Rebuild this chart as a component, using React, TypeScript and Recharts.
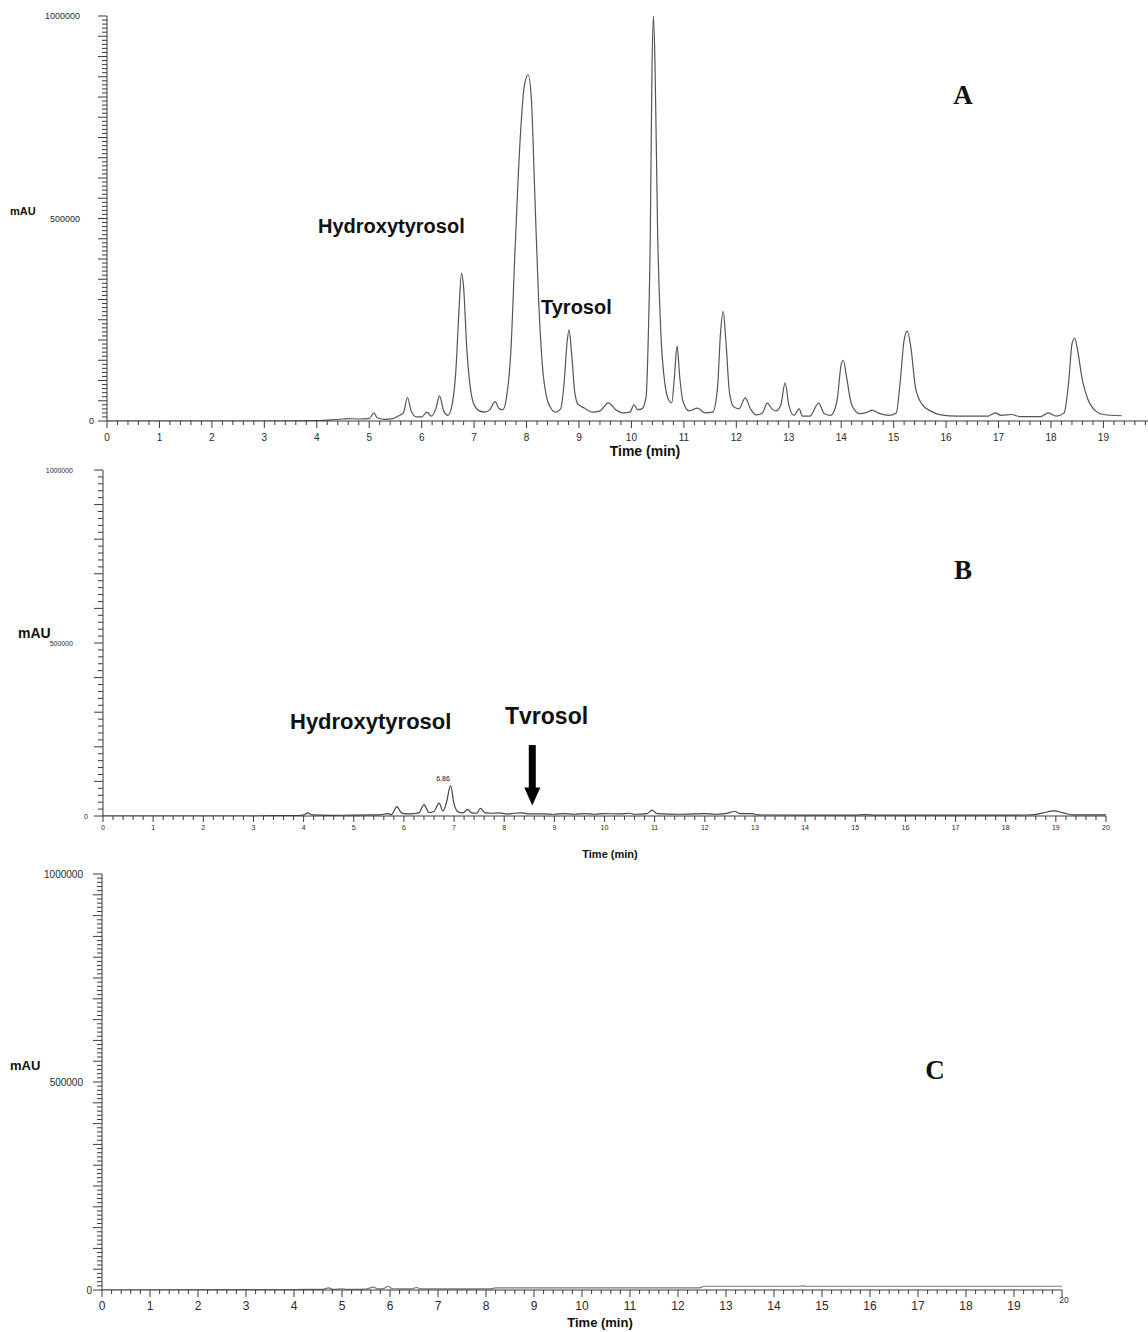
import React from 'react'
import { LineChart, Line, XAxis, YAxis, ReferenceLine, ReferenceDot } from 'recharts'

// Panel A – full extract (retention time in min, signal in mAU)
const timeA = [
  0, 1, 2, 3, 4, 4.3, 4.5, 4.6, 4.8, 5.0, 5.09, 5.15, 5.3, 5.45, 5.55, 5.65, 5.73, 5.8, 5.9, 6.0,
  6.1, 6.18, 6.27, 6.34, 6.42, 6.5, 6.58, 6.65, 6.71, 6.76, 6.8, 6.86, 6.93, 7.0, 7.1, 7.2, 7.3, 7.4,
  7.48, 7.55, 7.62, 7.7, 7.78, 7.88, 7.96, 8.03, 8.09, 8.16, 8.23, 8.3, 8.38, 8.45, 8.55, 8.65, 8.72,
  8.77, 8.81, 8.86, 8.92, 8.98, 9.1, 9.25, 9.4, 9.56, 9.7, 9.85, 9.97, 10.05, 10.12, 10.2, 10.28,
  10.32, 10.36, 10.39, 10.42, 10.45, 10.5, 10.56, 10.64, 10.72, 10.77, 10.82, 10.87, 10.92, 10.98,
  11.1, 11.26, 11.4, 11.55, 11.64, 11.7, 11.75, 11.8, 11.87, 11.95, 12.05, 12.17, 12.27, 12.38, 12.5,
  12.59, 12.68, 12.76, 12.85, 12.93, 13.0, 13.1, 13.2, 13.26, 13.4, 13.57, 13.68, 13.8, 13.92, 14.0,
  14.04, 14.1, 14.2, 14.35, 14.5, 14.59, 14.7, 14.9, 15.05, 15.12, 15.2, 15.26, 15.33, 15.42, 15.55,
  15.7, 15.9, 16.2, 16.8, 16.93, 17.05, 17.25, 17.4, 17.8, 17.95, 18.1, 18.25, 18.34, 18.4, 18.45,
  18.5, 18.6, 18.7, 18.85, 19.0, 19.35,
]
const signalA = [
  0, 0, 0, 0, 1000, 3000, 5000, 6000, 5000, 6000, 20000, 8000, 4000, 6000, 12000, 20000, 58000, 25000, 10000, 10000,
  22000, 12000, 30000, 62000, 25000, 14000, 40000, 120000, 270000, 365000, 330000, 180000, 80000, 40000, 25000, 22000, 28000, 48000,
  30000, 28000, 60000, 170000, 420000, 700000, 830000, 855000, 800000, 550000, 300000, 140000, 60000, 35000, 22000, 30000, 100000,
  190000, 225000, 165000, 70000, 42000, 32000, 22000, 25000, 45000, 28000, 20000, 22000, 40000, 28000, 30000, 60000,
  200000, 460000, 850000, 1000000, 880000, 460000, 220000, 90000, 50000, 45000, 110000, 185000, 110000, 50000,
  25000, 32000, 20000, 22000, 80000, 220000, 270000, 200000, 70000, 35000, 30000, 57000, 30000, 15000, 20000,
  44000, 30000, 25000, 40000, 94000, 40000, 14000, 30000, 12000, 12000, 44000, 18000, 14000, 50000, 140000,
  150000, 110000, 40000, 18000, 22000, 27000, 20000, 14000, 20000, 90000, 200000, 222000, 180000, 80000, 40000,
  25000, 15000, 12000, 12000, 20000, 14000, 16000, 11000, 11000, 20000, 12000, 20000, 100000, 190000, 205000,
  180000, 100000, 55000, 25000, 16000, 13000,
]

// Panel B
const timeB = [
  0, 3.0, 3.4, 3.9, 4.0, 4.08, 4.18, 4.5, 5.0, 5.5, 5.68, 5.75, 5.86, 5.95, 6.05, 6.2, 6.3, 6.4, 6.5,
  6.6, 6.7, 6.78, 6.85, 6.93, 7.0, 7.08, 7.18, 7.27, 7.35, 7.45, 7.53, 7.62, 7.75, 7.9, 8.05, 8.2,
  8.35, 8.5, 8.8, 9.0, 9.2, 9.4, 9.6, 9.8, 10.0, 10.3, 10.5, 10.6, 10.85, 10.95, 11.05, 11.5, 12.0,
  12.2, 12.4, 12.6, 12.7, 12.95, 13.05, 14.0, 15.0, 15.2, 15.4, 16.5, 18.0, 18.5, 18.75, 18.95,
  19.15, 19.35, 20,
]
const signalB = [
  0, 0, 1500, 1500, 3000, 9000, 3000, 2000, 2500, 3000, 7000, 4000, 27000, 9000, 6000, 7000, 9000, 33000, 10000,
  13000, 37000, 14000, 40000, 88000, 35000, 12000, 9000, 19000, 9000, 8000, 22000, 9000, 8000, 9000, 6000, 8000,
  9000, 6000, 6000, 5000, 7000, 5000, 7000, 5000, 7000, 6000, 8000, 5000, 7000, 17000, 7000, 5000, 7000,
  5000, 7000, 13000, 7000, 7000, 3000, 2500, 2500, 4000, 2500, 2500, 2500, 3000, 9000, 15000,
  9000, 3000, 3000,
]

// Panel C
const timeC = [
  0, 2.7, 4.0, 4.6, 4.72, 4.82, 5.0, 5.1, 5.5, 5.65, 5.75, 5.88, 5.95, 6.05, 6.45, 6.55, 6.65, 8.1,
  8.2, 12.45, 12.55, 14.5, 14.6, 14.7, 20,
]
const signalC = [
  0, 800, 1200, 1500, 5000, 1500, 3000, 1500, 2000, 7000, 2500, 4000, 9000, 3000, 2500, 6000, 2500, 2500,
  5000, 5000, 9000, 9000, 10000, 9000, 9000,
]

const minutesA = [0, 1, 2, 3, 4, 5, 6, 7, 8, 9, 10, 11, 12, 13, 14, 15, 16, 17, 18, 19]
const minutesBC = [0, 1, 2, 3, 4, 5, 6, 7, 8, 9, 10, 11, 12, 13, 14, 15, 16, 17, 18, 19, 20]
const yLabels = [0, 500000, 1000000]

// Tyrosol arrow in panel B (data units)
const arrowX = 8.56
const arrowTop = 205000
const arrowShaftEnd = 70000
const arrowTip = 30000

const SANS = '"Liberation Sans", Arial, Helvetica, sans-serif'
const SERIF = '"Liberation Serif", "Times New Roman", serif'
const AXIS = '#3a3a3a'

const rows = (t: number[], v: number[]) => t.map((x, i) => ({ t: x, v: v[i] }))

function subTicks(minutes: number[], max: number) {
  const out: number[] = []
  minutes.forEach((m) => {
    for (let k = 0; k < 5; k++) {
      const v = Math.round((m + k * 0.2) * 1000) / 1000
      if (v <= max) out.push(v)
    }
  })
  return out
}

function yTicks(step: number) {
  const out: number[] = []
  for (let v = 0; v <= 1000000; v += step) out.push(v)
  return out
}

const isInt = (v: number) => Math.abs(v - Math.round(v)) < 1e-6

const makeXTick =
  (major: number, minor: number, gap: number, size: number, smallLast?: number) =>
  (props: any) => {
    const { x, y, payload } = props
    const v = payload.value
    const int = isInt(v)
    const last = smallLast !== undefined && Math.round(v) === smallLast && int
    return (
      <g>
        <line x1={x} x2={x} y1={y} y2={y + (int ? major : minor)} stroke={AXIS} strokeWidth={1} />
        {int && (
          <text
            x={x + (last ? 2 : 0)}
            y={y + (last ? gap - 6 : gap)}
            textAnchor="middle"
            dominantBaseline="central"
            fontSize={last ? size * 0.7 : size}
            fontFamily={SANS}
            fill="#2a2a2a"
          >
            {Math.round(v)}
          </text>
        )}
      </g>
    )
  }

const makeYTick =
  (every: number, major: number, minor: number, gap: number, zeroGap: number, size: number) =>
  (props: any) => {
    const { x, y, payload } = props
    const v = payload.value
    const big = v % every === 0
    return (
      <g>
        <line x1={x - (big ? major : minor)} x2={x} y1={y} y2={y} stroke={AXIS} strokeWidth={1} />
        {yLabels.includes(v) && (
          <text
            x={x - (v === 0 ? zeroGap : gap)}
            y={y}
            textAnchor="end"
            dominantBaseline="central"
            fontSize={size}
            fontFamily={SANS}
            fill="#2a2a2a"
          >
            {v}
          </text>
        )}
      </g>
    )
  }

const arrowHead = (props: any) => {
  const { cx, cy } = props
  return <polygon points={`${cx - 8},${cy - 18} ${cx + 8},${cy - 18} ${cx},${cy}`} fill="#000" />
}

const txt = (bold = true) => ({ fontFamily: SANS, fontWeight: bold ? 700 : 400, fill: '#111' })

export default function App() {
  return (
    <div style={{ position: 'absolute', left: 0, top: 0, width: 1148, height: 1332, background: '#fff' }}>
      {/* A */}
      <div style={{ position: 'absolute', left: 0, top: 0 }}>
        <LineChart width={1148} height={470} data={rows(timeA, signalA)} margin={{ top: 16, right: 0, bottom: 0, left: 0 }}>
          <XAxis
            type="number"
            dataKey="t"
            domain={[0, 19.85]}
            ticks={subTicks(minutesA, 19.85)}
            interval={0}
            height={49}
            tickSize={0}
            tickMargin={0}
            axisLine={{ stroke: AXIS }}
            tickLine={false}
            tick={makeXTick(7, 4, 16, 10)}
            allowDataOverflow
          />
          <YAxis
            type="number"
            domain={[0, 1000000]}
            ticks={yTicks(10000)}
            interval={0}
            width={107}
            tickSize={0}
            tickMargin={0}
            axisLine={{ stroke: AXIS }}
            tickLine={false}
            tick={makeYTick(50000, 9, 5, 27, 13, 9)}
            allowDataOverflow
          />
          <Line type="monotone" dataKey="v" stroke="#555" strokeWidth={1.2} dot={false} isAnimationActive={false} />
        </LineChart>
      </div>

      {/* B */}
      <div style={{ position: 'absolute', left: 0, top: 460 }}>
        <LineChart width={1148} height={400} data={rows(timeB, signalB)} margin={{ top: 10, right: 42, bottom: 0, left: 0 }}>
          <XAxis
            type="number"
            dataKey="t"
            domain={[0, 20]}
            ticks={subTicks(minutesBC, 20)}
            interval={0}
            height={44}
            tickSize={0}
            tickMargin={0}
            axisLine={{ stroke: AXIS }}
            tickLine={false}
            tick={makeXTick(6, 4, 11, 7)}
            allowDataOverflow
          />
          <YAxis
            type="number"
            domain={[0, 1000000]}
            ticks={yTicks(20000)}
            interval={0}
            width={103}
            tickSize={0}
            tickMargin={0}
            axisLine={{ stroke: AXIS }}
            tickLine={false}
            tick={makeYTick(100000, 9, 5, 30, 15, 7)}
            allowDataOverflow
          />
          <Line type="monotone" dataKey="v" stroke="#444" strokeWidth={1.2} dot={false} isAnimationActive={false} />
          <ReferenceLine
            segment={[
              { x: arrowX, y: arrowTop },
              { x: arrowX, y: arrowShaftEnd },
            ]}
            stroke="#000"
            strokeWidth={7}
          />
          <ReferenceDot x={arrowX} y={arrowTip} r={8} shape={arrowHead} />
        </LineChart>
      </div>

      {/* C */}
      <div style={{ position: 'absolute', left: 0, top: 864 }}>
        <LineChart width={1148} height={468} data={rows(timeC, signalC)} margin={{ top: 10, right: 86, bottom: 0, left: 0 }}>
          <XAxis
            type="number"
            dataKey="t"
            domain={[0, 20]}
            ticks={subTicks(minutesBC, 20)}
            interval={0}
            height={42}
            tickSize={0}
            tickMargin={0}
            axisLine={{ stroke: AXIS }}
            tickLine={false}
            tick={makeXTick(7, 4, 16, 12, 20)}
            allowDataOverflow
          />
          <YAxis
            type="number"
            domain={[0, 1000000]}
            ticks={yTicks(10000)}
            interval={0}
            width={102}
            tickSize={0}
            tickMargin={0}
            axisLine={{ stroke: AXIS }}
            tickLine={false}
            tick={makeYTick(50000, 9, 5, 19, 10, 10)}
            allowDataOverflow
          />
          <Line type="monotone" dataKey="v" stroke="#777" strokeWidth={1.2} dot={false} isAnimationActive={false} />
        </LineChart>
      </div>

      {/* labels */}
      <svg width={1148} height={1332} style={{ position: 'absolute', left: 0, top: 0, pointerEvents: 'none' }}>
        <text x={10} y={215} fontSize={11} {...txt()}>mAU</text>
        <text x={318} y={233} fontSize={20} {...txt()}>Hydroxytyrosol</text>
        <text x={541} y={314} fontSize={20} {...txt()}>Tyrosol</text>
        <text x={963} y={104} fontSize={27} textAnchor="middle" fontFamily={SERIF} fontWeight={700} fill="#111">A</text>
        <text x={645} y={456} fontSize={14} textAnchor="middle" {...txt()}>Time (min)</text>

        <text x={18} y={638} fontSize={14} {...txt()}>mAU</text>
        <text x={290} y={729} fontSize={22} {...txt()}>Hydroxytyrosol</text>
        <text x={505} y={724} fontSize={23} {...txt()}>Tvrosol</text>
        <text x={963} y={579} fontSize={27} textAnchor="middle" fontFamily={SERIF} fontWeight={700} fill="#111">B</text>
        <text x={443} y={781} fontSize={7} textAnchor="middle" {...txt(false)}>6.86</text>
        <text x={610} y={858} fontSize={11} textAnchor="middle" {...txt()}>Time (min)</text>

        <text x={10} y={1070} fontSize={13} {...txt()}>mAU</text>
        <text x={935} y={1079} fontSize={27} textAnchor="middle" fontFamily={SERIF} fontWeight={700} fill="#111">C</text>
        <text x={600} y={1327} fontSize={13} textAnchor="middle" {...txt()}>Time (min)</text>
      </svg>
    </div>
  )
}
